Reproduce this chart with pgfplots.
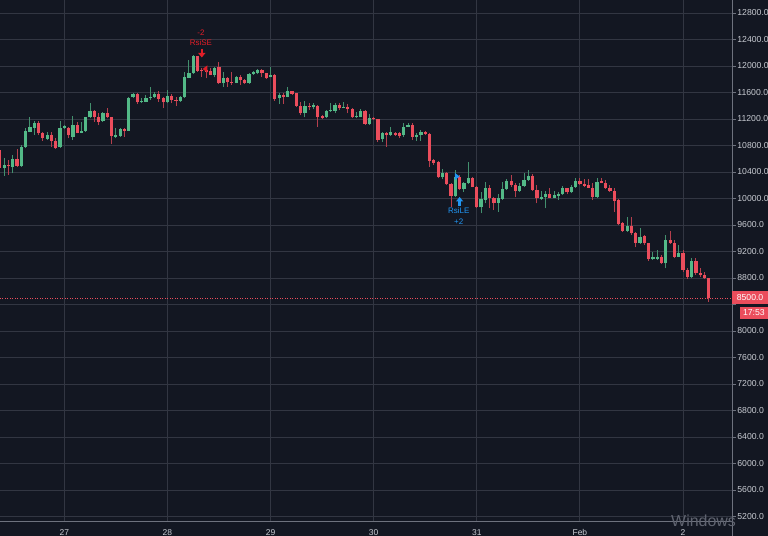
\documentclass[border=0pt]{standalone}
\usepackage{pgfplots}
\pgfplotsset{compat=1.18}
\usepackage{pgfplotstable}
\usepackage{fontspec}
\setmainfont{Liberation Sans}
\usetikzlibrary{arrows.meta}
\definecolor{bg}{RGB}{19,23,34}
\definecolor{gridc}{RGB}{50,54,66}
\definecolor{cgreen}{RGB}{83,185,135}
\definecolor{cred}{RGB}{235,77,92}
\definecolor{axc}{RGB}{110,114,126}
\definecolor{txt}{RGB}{200,203,210}
\definecolor{sigred}{RGB}{225,30,40}
\definecolor{sigblue}{RGB}{33,150,243}

% hour index (0 = Jan 27 00:00), open, high, low, close
\pgfplotstableread{
x o h l c
-14 10455 10616 10345 10506
-12 10480 10656 10380 10596
-10 10490 10807 10480 10782
-9 10772 11059 10757 11024
-8 11009 11225 11000 11074
-7 11069 11170 10958 11134
-4 10898 11009 10883 10958
-1 10772 11170 10765 11069
0 11059 11109 11055 11094
2 10933 11250 10883 11109
4 10994 11160 10984 11024
5 11019 11235 11009 11225
6 11225 11436 11210 11326
9 11170 11310 11160 11285
12 10933 11059 10908 10958
13 10943 11059 10933 11049
15 11024 11527 11015 11512
16 11527 11597 11512 11577
18 11451 11512 11436 11476
19 11461 11562 11451 11522
20 11512 11688 11486 11537
21 11527 11612 11512 11577
24 11451 11637 11436 11547
27 11476 11547 11461 11537
28 11527 11904 11520 11829
29 11824 12090 11814 11889
30 11889 12166 11885 12150
35 11864 11990 11829 11974
37 11738 11904 11688 11824
40 11748 11849 11738 11839
43 11738 11899 11735 11879
44 11879 11929 11869 11904
45 11889 11954 11874 11939
48 11839 11979 11828 11864
50 11511 11587 11426 11562
52 11537 11677 11527 11622
56 11285 11476 11225 11396
58 11376 11446 11345 11411
61 11225 11335 11210 11325
62 11320 11436 11310 11335
63 11325 11436 11285 11411
65 11371 11461 11360 11386
68 11225 11310 11210 11245
69 11235 11345 11225 11320
71 11124 11270 11109 11220
74 10893 11008 10857 10983
76 10958 11084 10943 11008
79 10959 11135 10933 11084
80 11084 11145 11074 11110
82 10933 10984 10873 10959
83 10959 11034 10873 11009
88 10320 10440 10290 10390
91 10038 10430 10028 10330
93 10139 10254 10103 10229
94 10229 10556 10220 10305
97 9867 10103 9776 9988
98 9978 10254 9927 10154
101 9937 10068 9801 10003
102 9993 10254 9978 10139
103 10139 10290 10129 10269
106 10118 10229 10103 10194
107 10194 10380 10179 10279
108 10279 10430 10264 10345
111 9987 10113 9977 10028
112 10018 10113 9851 10063
114 10012 10113 10002 10053
115 10043 10103 9982 10063
116 10063 10193 10053 10163
118 10093 10204 10078 10178
119 10178 10314 10163 10269
124 10028 10304 10012 10254
131 9514 9726 9499 9585
134 9333 9550 9313 9414
137 9092 9198 9072 9112
138 9092 9223 9072 9122
140 9021 9449 8946 9373
143 9122 9298 9112 9172
146 8820 9097 8795 9062
}\greentab

\pgfplotstableread{
x o h l c
-15 10732 10757 10430 10455
-13 10506 10581 10355 10490
-11 10596 10742 10480 10490
-6 11134 11170 10958 10984
-5 10984 11009 10868 10908
-3 10958 11009 10782 10868
-2 10868 10908 10750 10757
1 11069 11084 10908 10958
3 11109 11160 10984 10994
7 11326 11336 11160 11225
8 11225 11285 11109 11160
10 11285 11371 11210 11225
11 11225 11235 10817 10943
14 11049 11059 10933 11024
17 11577 11587 11426 11451
22 11577 11627 11461 11502
23 11512 11537 11361 11451
25 11547 11572 11436 11486
26 11486 11537 11396 11471
31 12150 12155 11914 11929
32 11939 11964 11839 11924
33 11939 11949 11813 11914
34 11924 11964 11860 11864
36 11979 12065 11735 11738
38 11824 11839 11688 11763
39 11763 11904 11713 11748
41 11839 11864 11713 11788
42 11788 11798 11728 11738
46 11939 11949 11829 11889
47 11889 11899 11803 11813
49 11864 11874 11476 11496
51 11562 11587 11426 11537
53 11622 11627 11562 11577
54 11587 11597 11386 11396
55 11396 11461 11260 11285
57 11396 11436 11335 11376
59 11396 11406 11084 11235
60 11245 11260 11195 11220
64 11411 11446 11335 11371
66 11386 11421 11285 11345
67 11350 11360 11210 11225
70 11320 11335 11109 11124
72 11220 11235 11185 11195
73 11195 11205 10857 10883
75 10983 11008 10782 10958
77 10994 11009 10944 10959
78 10994 11009 10908 10944
81 11110 11135 10883 10933
84 11009 11024 10959 10974
85 10974 10984 10481 10571
86 10581 10591 10506 10541
87 10556 10571 10305 10320
89 10390 10405 10204 10214
90 10219 10239 9877 10038
92 10330 10355 10129 10139
95 10305 10320 10169 10179
96 10179 10189 9852 9867
99 10154 10204 9852 10003
100 10003 10028 9827 9937
104 10269 10355 10179 10204
105 10204 10229 10018 10118
109 10345 10365 10113 10128
110 10128 10204 9927 10002
113 10063 10163 10002 10012
117 10153 10163 10063 10093
120 10269 10304 10204 10219
121 10219 10294 10178 10194
122 10204 10294 10153 10163
123 10163 10229 9977 10028
125 10264 10304 10229 10239
126 10239 10279 10143 10153
127 10153 10204 10103 10113
128 10113 10153 9801 9962
129 9977 9992 9600 9610
130 9625 9650 9499 9514
132 9585 9726 9449 9474
133 9474 9499 9263 9333
135 9434 9449 9298 9323
136 9323 9333 9062 9082
139 9122 9147 9011 9021
141 9373 9514 9313 9323
142 9323 9373 9097 9122
144 9182 9223 8896 8921
145 8921 8946 8780 8820
147 9062 9097 8845 8870
148 8870 8946 8820 8845
149 8845 8895 8780 8795
150 8795 8805 8443 8500
}\redtab

\begin{document}
\begin{tikzpicture}
\fill[bg] (0,-14.5bp) rectangle (768bp,521.5bp);
\begin{axis}[
  name=ax,
  at={(0,0)}, anchor=south west,
  width=732bp, height=521.5bp, scale only axis,
  xmin=-14.97, xmax=155.4,
  ymin=5124.7, ymax=12996,
  axis line style={draw=none},
  grid=major,
  major grid style={draw=gridc, line width=0.9bp},
  xtick={0,24,48,72,96,120,144},
  xticklabels={27,28,29,30,31,Feb,2},
  xtick style={draw=none},
  xticklabel style={font=\fontsize{8.5}{9}\selectfont, text=txt, yshift=-0.3bp},
  ytick={5200,5600,6000,6400,6800,7200,7600,8000,8800,9200,9600,10000,10400,10800,11200,11600,12000,12400,12800},
  extra y ticks={8400},
  extra y tick labels={},
  scaled y ticks=false,
  yticklabel pos=right,
  ytick pos=right,
  tick align=outside,
  major tick length=4bp,
  ytick style={draw=axc, line width=0.7bp},
  yticklabel style={anchor=west, inner sep=1.2bp, font=\fontsize{8.7}{9}\selectfont, text=txt},
  y tick label style={/pgf/number format/fixed, /pgf/number format/fixed zerofill,
    /pgf/number format/precision=1, /pgf/number format/1000 sep={},
    /pgf/number format/assume math mode=true},
  candle/.style={draw=none, mark=none, forget plot, error bars/.cd, y dir=plus, y explicit, error mark=none},
]
% wicks
\addplot[candle, error bar style={draw=cgreen!75!bg, line width=1bp}]
  table[x=x, y=l, y error plus expr={\thisrow{h}-\thisrow{l}}] {\greentab};
\addplot[candle, error bar style={draw=cred!75!bg, line width=1bp}]
  table[x=x, y=l, y error plus expr={\thisrow{h}-\thisrow{l}}] {\redtab};
% bodies
\addplot[candle, error bar style={draw=cgreen, line width=3.2bp}]
  table[x=x, y=o, y error plus expr={\thisrow{c}-\thisrow{o}}] {\greentab};
\addplot[candle, error bar style={draw=cred, line width=3.2bp}]
  table[x=x, y=c, y error plus expr={\thisrow{o}-\thisrow{c}}] {\redtab};
% last price line
\addplot[cred, line width=0.7bp, dash pattern=on 1bp off 1.5bp, forget plot] coordinates {(-15,8500) (156,8500)};
% signals
\draw[sigred, line width=2.4bp, -{Triangle[width=7bp,length=4.5bp]}] (axis cs:32.0,12262) -- (axis cs:32.0,12128);
\node[text=sigred, font=\fontsize{8}{9}\selectfont, inner sep=0] at (axis cs:31.8,12347) {RsiSE};
\node[text=sigred, font=\fontsize{8}{9}\selectfont, inner sep=0] at (axis cs:31.8,12506) {-2};
\fill[sigred] (axis cs:32.2,11955) -- (axis cs:33.3,12010) -- (axis cs:33.3,11900) -- cycle;
\draw[sigblue, line width=2.4bp, -{Triangle[width=7bp,length=4.5bp]}] (axis cs:92.0,9880) -- (axis cs:92.0,10023);
\node[text=sigblue, font=\fontsize{8}{9}\selectfont, inner sep=0] at (axis cs:91.8,9811) {RsiLE};
\node[text=sigblue, font=\fontsize{8}{9}\selectfont, inner sep=0] at (axis cs:91.8,9652) {+2};
\fill[sigblue] (axis cs:92.0,10332) -- (axis cs:90.9,10385) -- (axis cs:90.9,10279) -- cycle;
\end{axis}
% axis lines
\draw[axc, line width=0.8bp] (ax.south west) -- (ax.south east);
\draw[axc, line width=0.8bp] ([yshift=-14.5bp]ax.south east) -- (ax.north east);
% last price labels
\node[fill=cred, text=white, inner sep=0, minimum width=36.3bp, minimum height=13bp, anchor=south west,
  font=\fontsize{8.7}{9}\selectfont] at (731.7bp,217bp) {8500.0};
\node[fill=cred, text=white, inner sep=0, minimum width=28.7bp, minimum height=12.2bp, anchor=south west,
  font=\fontsize{8.7}{9}\selectfont] at (739.3bp,202.2bp) {17:53};
% watermark
\node[text=axc!85!bg, font=\fontsize{16}{18}\selectfont, anchor=base west, inner sep=0] at (671bp,-4.5bp) {Windows};
\pgfresetboundingbox
\path[use as bounding box] (0,-14.5bp) rectangle (768bp,521.5bp);
\end{tikzpicture}
\end{document}
